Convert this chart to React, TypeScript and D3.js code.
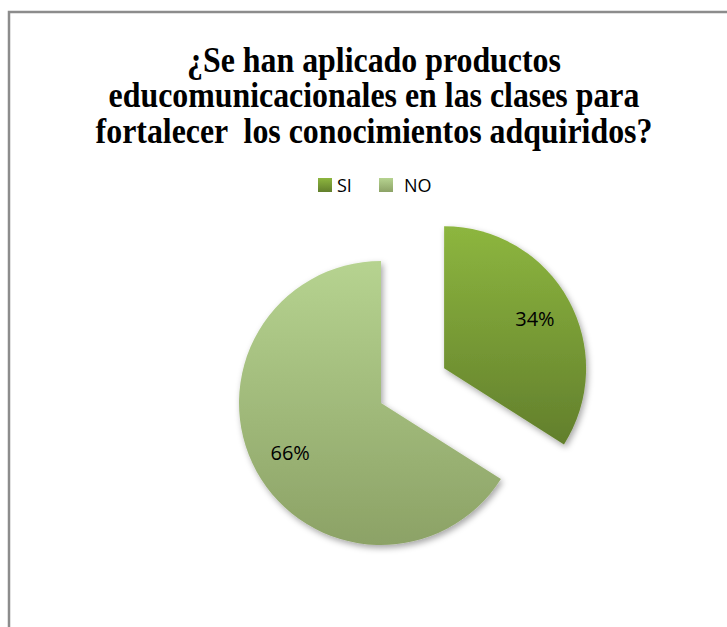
import React from "react";
import * as d3 from "d3";

const categories = ["SI", "NO"];
const values = [34, 66];
const labels = ["34%", "66%"];
const titleLines = [
  "¿Se han aplicado productos",
  "educomunicacionales en las clases para",
  "fortalecer  los conocimientos adquiridos?",
];
const topColors = ["#8db63f", "#b6d390"];
const bottomColors = ["#627f2c", "#8ca266"];
const explode = [72, 0];

export default function App() {
  const W = 727;
  const H = 627;
  const cx = 381;
  const cy = 403;
  const r = 142;
  const pie = d3.pie<number>().sort(null).startAngle(0).endAngle(2 * Math.PI);
  const arcs = pie(values);
  const arc = d3.arc<d3.PieArcDatum<number>>().innerRadius(0).outerRadius(r);
  const legendX = [318, 379];
  const sans = "'Open Sans', 'Noto Sans', sans-serif";
  const sx = 0.885;
  return (
    <svg
      width={W}
      height={H}
      style={{ position: "absolute", left: 0, top: 0, background: "#fff" }}
    >
      <defs>
        {categories.map((c, i) => (
          <linearGradient key={c} id={`g${i}`} x1="0" y1="0" x2="0" y2="1">
            <stop offset="0" stopColor={topColors[i]} />
            <stop offset="1" stopColor={bottomColors[i]} />
          </linearGradient>
        ))}
        <filter id="sh" x="-20%" y="-20%" width="140%" height="140%">
          <feDropShadow dx="2" dy="3" stdDeviation="3" floodColor="#000" floodOpacity="0.35" />
        </filter>
      </defs>
      <path d={`M9,${H} V12 H${W}`} fill="none" stroke="#8c8c8c" strokeWidth={2.5} />
      <g
        transform={`scale(${sx},1)`}
        style={{ fontFamily: "'Liberation Serif', 'DejaVu Serif', serif", fontWeight: 700, fontSize: "36px" }}
        textAnchor="middle"
      >
        {titleLines.map((t, i) => (
          <text key={i} x={374 / sx} y={72 + i * 35.5} style={{ whiteSpace: "pre" }}>
            {t}
          </text>
        ))}
      </g>
      <g style={{ fontFamily: sans, fontSize: "18px" }}>
        {categories.map((c, i) => (
          <g key={c}>
            <rect x={legendX[i]} y={178} width={14} height={14} fill={`url(#g${i})`} />
            <text x={legendX[i] + 19 + (i === 1 ? 6 : 0)} y={192}>
              {c}
            </text>
          </g>
        ))}
      </g>
      <g transform={`translate(${cx},${cy})`}>
        {arcs.map((a, i) => {
          const mid = (a.startAngle + a.endAngle) / 2;
          const dx = Math.sin(mid) * explode[i];
          const dy = -Math.cos(mid) * explode[i];
          return (
            <path
              key={i}
              d={arc(a) || ""}
              transform={`translate(${dx},${dy})`}
              fill={`url(#g${i})`}
              filter="url(#sh)"
            />
          );
        })}
        {arcs.map((a, i) => {
          const mid = (a.startAngle + a.endAngle) / 2;
          const d = explode[i] + r * 0.73;
          return (
            <text
              key={i}
              x={Math.sin(mid) * d}
              y={-Math.cos(mid) * d}
              textAnchor="middle"
              dominantBaseline="central"
              style={{ fontFamily: sans, fontSize: "20px" }}
              fill="#000"
            >
              {labels[i]}
            </text>
          );
        })}
      </g>
    </svg>
  );
}
